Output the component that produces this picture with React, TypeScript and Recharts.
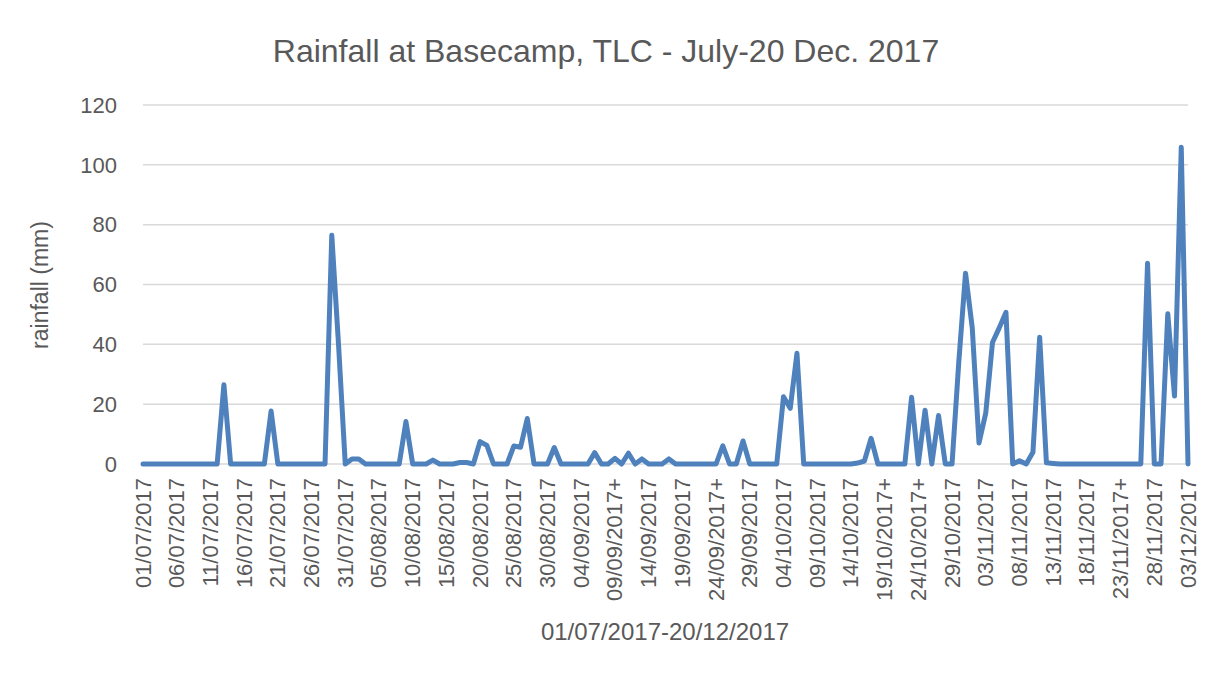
import { LineChart, Line, XAxis, YAxis, CartesianGrid } from "recharts";

// daily rainfall (mm), 01/07/2017 -> 03/12/2017
const july = [
  0, 0, 0, 0, 0, 0, 0, 0, 0, 0, 0, 0, 26.5, 0, 0, 0, 0, 0, 0, 17.7, 0, 0, 0, 0, 0, 0, 0, 0, 76.5, 40, 0,
];
const august = [
  1.7, 1.7, 0, 0, 0, 0, 0, 0, 14.2, 0, 0, 0, 1.3, 0, 0, 0, 0.5, 0.5, 0, 7.5, 6.2, 0, 0, 0, 6, 5.6, 15.2, 0, 0, 0, 5.5,
];
const september = [
  0, 0, 0, 0, 0, 3.8, 0, 0, 1.9, 0, 3.6, 0, 1.7, 0, 0, 0, 1.7, 0, 0, 0, 0, 0, 0, 0, 6.1, 0, 0, 7.7, 0, 0,
];
const october = [
  0, 0, 0, 22.5, 18.6, 37, 0, 0, 0, 0, 0, 0, 0, 0, 0.3, 1, 8.6, 0, 0, 0, 0, 0, 22.3, 0, 18, 0, 16.2, 0, 0, 34, 63.8,
];
const november = [
  45.5, 7, 17, 40.6, 45.5, 50.7, 0, 1.1, 0, 3.9, 42.4, 0.4, 0.2, 0, 0, 0, 0, 0, 0, 0, 0, 0, 0, 0, 0, 0, 67.1, 0, 0, 50.2,
];
const december = [22.7, 105.9, 0];

const rain = [...july, ...august, ...september, ...october, ...november, ...december];

// dates that carry a "+" in the source sheet
const plusDates = ["09/09/2017", "24/09/2017", "19/10/2017", "24/10/2017", "23/11/2017"];
const yTicks = [0, 20, 40, 60, 80, 100, 120];

const pad = (n: number) => (n < 10 ? "0" + n : "" + n);
const start = new Date(2017, 6, 1);
const data = rain.map((v, i) => {
  const d = new Date(start.getFullYear(), start.getMonth(), start.getDate() + i);
  let label = `${pad(d.getDate())}/${pad(d.getMonth() + 1)}/${d.getFullYear()}`;
  if (plusDates.includes(label)) label += "+";
  return { date: label, rain: v };
});

const FONT = "'Liberation Sans', Arial, sans-serif";
const TEXT = "#595959";

function DateTick(props: any) {
  const { x, y, payload } = props;
  const ty = y + 14;
  return (
    <text
      x={x}
      y={ty}
      transform={`rotate(-90 ${x} ${ty})`}
      textAnchor="end"
      dominantBaseline="central"
      fill={TEXT}
      fontSize={22}
      fontFamily={FONT}
    >
      {payload.value}
    </text>
  );
}

export default function App() {
  return (
    <div
      style={{
        position: "relative",
        width: 1196,
        height: 672,
        margin: "-1px 0 0 -1px",
        border: "1px solid #d9d9d9",
        background: "#fff",
        fontFamily: FONT,
        color: TEXT,
      }}
    >
      <div
        style={{
          position: "absolute",
          left: 0,
          width: 1196,
          top: 27,
          textAlign: "center",
          fontSize: 32,
          lineHeight: "32px",
        }}
      >
        Rainfall at Basecamp, TLC - July-20 Dec. 2017
      </div>
      <div
        style={{
          position: "absolute",
          left: 32,
          top: 277,
          transform: "translate(-50%, -50%) rotate(-90deg)",
          whiteSpace: "nowrap",
          fontSize: 23,
          lineHeight: "23px",
        }}
      >
        rainfall (mm)
      </div>
      <div
        style={{
          position: "absolute",
          left: 657,
          top: 624,
          transform: "translate(-50%, -50%)",
          whiteSpace: "nowrap",
          fontSize: 24,
          lineHeight: "24px",
        }}
      >
        01/07/2017-20/12/2017
      </div>
      <LineChart
        width={1194}
        height={669}
        data={data}
        margin={{ top: 97, right: 14, left: 0, bottom: 0 }}
        style={{ position: "absolute", left: 0, top: 0 }}
      >
        <CartesianGrid vertical={false} stroke="#d9d9d9" strokeWidth={1.5} />
        <XAxis
          dataKey="date"
          interval={4}
          height={213}
          axisLine={false}
          tickLine={false}
          tickSize={0}
          tickMargin={0}
          tick={<DateTick />}
        />
        <YAxis
          width={135}
          domain={[0, 120]}
          ticks={yTicks}
          axisLine={false}
          tickLine={false}
          tickSize={0}
          tickMargin={26}
          tick={{ fill: TEXT, fontSize: 22, fontFamily: FONT }}
        />
        <Line
          type="linear"
          dataKey="rain"
          stroke="#4f81bd"
          strokeWidth={5}
          strokeLinejoin="round"
          strokeLinecap="round"
          dot={false}
          activeDot={false}
          isAnimationActive={false}
        />
      </LineChart>
    </div>
  );
}
